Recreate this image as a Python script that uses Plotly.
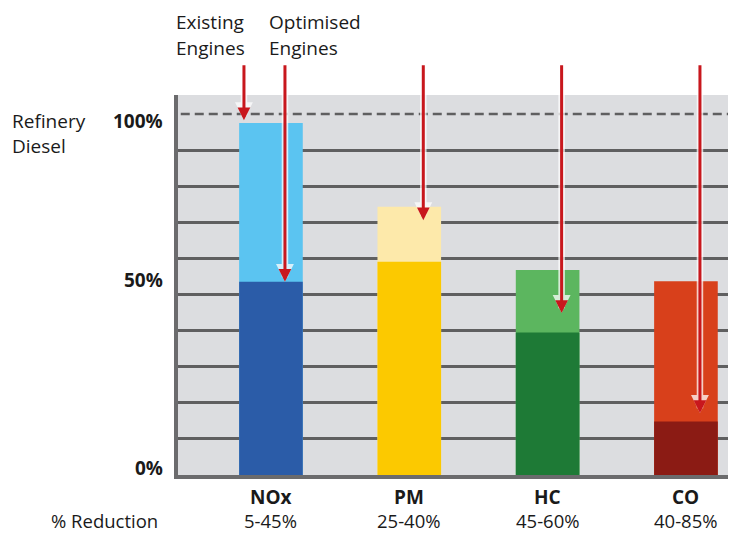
import plotly.graph_objects as go

# ---------------- data ----------------
categories = ["NOx", "PM", "HC", "CO"]
existing_engines = [97.5, 74.3, 56.8, 53.7]      # % of refinery diesel
optimised_engines = [53.5, 59.1, 39.5, 14.8]
reduction_text = ["5-45%", "25-40%", "45-60%", "40-85%"]
optimised_arrow_tips = [53.5, 70.6, 44.9, 17.2]
existing_arrow_tip = 98.3
arrow_start = 113.9
ytick_vals = [0, 50, 100]
ytick_text = ["0%", "50%", "100%"]
grid_vals = [10, 20, 30, 40, 50, 60, 70, 80, 90]

# ---------------- style ----------------
light_colors = ["#5bc4f1", "#fde9aa", "#5cb65f", "#d8401b"]
dark_colors = ["#2b5ca8", "#fcc900", "#1e7a36", "#8b1b14"]
FONT = "Open Sans"
TXT = "#1a1a1a"
GRID = "#5f5f60"
AXIS = "#6b6b6d"
RED = "#c8171d"
FS = 19

W, H = 735, 533
L, R, T, B = 178, 7, 95, 58
PW, PH = W - L - R, H - T - B


def px_x(px):
    return (px - L) / PW


def px_y(py):
    return (H - B - py) / PH


fig = go.Figure()
fig.add_trace(go.Bar(x=categories, y=existing_engines, marker_color=light_colors,
                     width=0.46, marker_line_width=0, hoverinfo="skip"))
fig.add_trace(go.Bar(x=categories, y=optimised_engines, marker_color=dark_colors,
                     width=0.46, marker_line_width=0, hoverinfo="skip"))

# dashed 100% line
fig.add_shape(type="line", xref="paper", x0=0.005, x1=1, yref="y", y0=100, y1=100,
              line=dict(color=GRID, width=2.5, dash="9px,5px"), layer="below")

annotations = []


def add_arrow(cat, tip, shift):
    # white halo
    annotations.append(dict(x=cat, y=tip, xref="x", yref="y", ax=0, ay=arrow_start,
                            axref="pixel", ayref="y", xshift=shift, text="",
                            showarrow=True, arrowhead=2, arrowwidth=6.5,
                            arrowsize=0.55, arrowcolor="rgba(255,255,255,0.75)"))
    annotations.append(dict(x=cat, y=tip, xref="x", yref="y", ax=0, ay=arrow_start,
                            axref="pixel", ayref="y", xshift=shift, text="",
                            showarrow=True, arrowhead=2, arrowwidth=3,
                            arrowsize=0.85, arrowcolor=RED))


add_arrow(categories[0], existing_arrow_tip, -27)
for c, tip in zip(categories, optimised_arrow_tips):
    add_arrow(c, tip, 14)

# y tick labels
for v, t, ys in zip(ytick_vals, ytick_text, [7, 14.5, -7]):
    annotations.append(dict(x=px_x(165), xref="paper", y=v, yref="y", yshift=ys,
                            text=f"<b>{t}</b>", showarrow=False, xanchor="right",
                            yanchor="middle", font=dict(family=FONT, size=FS, color=TXT)))

# category labels and reductions
for c, r in zip(categories, reduction_text):
    annotations.append(dict(x=c, xref="x", y=0, yref="y", yshift=-22,
                            text=f"<b>{c}</b>", showarrow=False, xanchor="center",
                            yanchor="middle", font=dict(family=FONT, size=FS, color=TXT)))
    annotations.append(dict(x=c, xref="x", y=0, yref="y", yshift=-45, borderpad=0,
                            text=r, showarrow=False, xanchor="center",
                            yanchor="middle", font=dict(family=FONT, size=FS - 0.5, color=TXT)))

annotations.append(dict(x=px_x(104), xref="paper", y=0, yref="y", yshift=-45, borderpad=0,
                        text="% Reduction", showarrow=False, xanchor="center",
                        yanchor="middle", font=dict(family=FONT, size=FS - 0.5, color=TXT)))

# header texts
for txt, x, y in [("Existing", 174, 22), ("Engines", 174, 48),
                  ("Optimised", 267, 22), ("Engines", 267, 48),
                  ("Refinery", 10, 121), ("Diesel", 10, 146)]:
    annotations.append(dict(x=px_x(x), xref="paper", y=px_y(y), yref="paper",
                            text=txt, showarrow=False, xanchor="left", yanchor="middle",
                            font=dict(family=FONT, size=FS, color=TXT)))

fig.update_layout(
    width=W, height=H,
    margin=dict(l=L, r=R, t=T, b=B, pad=0),
    paper_bgcolor="white",
    plot_bgcolor="#dcdde0",
    barmode="overlay",
    showlegend=False,
    annotations=annotations,
    xaxis=dict(range=[-0.672, 3.304], showgrid=False, showticklabels=False,
               ticks="", showline=True, linecolor=AXIS, linewidth=4, zeroline=False,
               fixedrange=True),
    yaxis=dict(range=[0, 105.26], tickvals=grid_vals, showticklabels=False, ticks="",
               showgrid=True, gridcolor=GRID, gridwidth=3, zeroline=False,
               showline=True, linecolor=AXIS, linewidth=4, fixedrange=True),
)

fig.write_html("out.html", config={"displayModeBar": False},
               post_script="document.body.style.margin='0';document.body.style.overflow='hidden';")
